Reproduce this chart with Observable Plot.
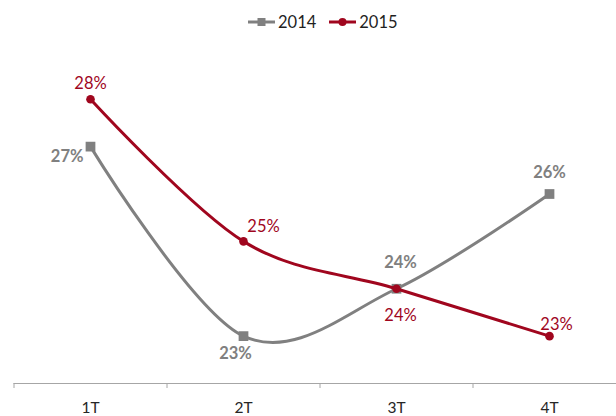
<!DOCTYPE html>
<html><head><meta charset="utf-8">
<script src="https://cdn.jsdelivr.net/npm/d3@7"></script>
<script src="https://cdn.jsdelivr.net/npm/@observablehq/plot@0.6"></script>
<style>
body{margin:0;background:#fff;font-family:Lato,sans-serif}
#wrap{position:relative;width:616px;height:416px}
#legend{position:absolute;top:12px;left:248px;display:flex;align-items:center;font-size:16.5px;line-height:20px;color:#1f1f1f;z-index:2}
#legend .item{display:flex;align-items:center;margin-right:13px}
#legend svg{margin-right:3px}
</style></head><body>
<div id="wrap"><div id="legend"></div><div id="chart"></div></div>
<script>
const categories = ["1T", "2T", "3T", "4T"];
const series = ["2014", "2015"];
const values2014 = [27, 23, 24, 26];
const values2015 = [28, 25, 24, 23];
const labels2014 = ["27%", "23%", "24%", "26%"];
const labels2015 = ["28%", "25%", "24%", "23%"];
const colors = {"2014": "#808080", "2015": "#A0061E"};
const symbols = {"2014": "square", "2015": "circle"};

// label placement (layout only)
const place2014 = [{dx:-7,dy:10,anchor:"end"},{dx:-8,dy:18},{dx:4,dy:-26},{dx:0,dy:-21}];
const place2015 = [{dx:0,dy:-16},{dx:20,dy:-15},{dx:4,dy:27},{dx:7,dy:-11}];

const rows = (s, vals, labs) => categories.map((c, k) => ({cat: c, i: k + 1, v: vals[k], label: labs[k], series: s}));
const d2014 = rows("2014", values2014, labels2014);
const d2015 = rows("2015", values2015, labels2015);

const labelMarks = (data, place, bold) => data.map((d, k) => Plot.text([d], {
  x: "i", y: "v", text: "label",
  dx: place[k].dx, dy: place[k].dy,
  textAnchor: place[k].anchor || "middle",
  fill: colors[d.series], fontSize: 16.5, fontWeight: bold ? "bold" : "normal"
}));

const chart = Plot.plot({
  width: 616, height: 416,
  marginTop: 4, marginBottom: 33, marginLeft: 0, marginRight: 0,
  style: {fontFamily: "Lato, sans-serif", background: "#fff"},
  x: {type: "linear", domain: [0.5, 4.5], range: [13.5, 625.5], label: null},
  y: {domain: [22, 30], label: null, axis: null},
  marks: [
    Plot.ruleY([22], {x1: 0.5, x2: 4.5, stroke: "#a6a6a6", strokeWidth: 1}),
    Plot.axisX({ticks: [0.5, 1.5, 2.5, 3.5, 4.5], tickFormat: () => "", tickSize: 5, stroke: "#a6a6a6", strokeOpacity: 1, label: null}),
    Plot.axisX({ticks: [1, 2, 3, 4], tickSize: 0, tickPadding: 18, tickFormat: d => categories[d - 1], fontSize: 15.5, fill: "#262626", label: null}),
    Plot.line(d2014, {x: "i", y: "v", stroke: colors["2014"], strokeWidth: 3, curve: "cardinal"}),
    Plot.dot(d2014, {x: "i", y: "v", symbol: symbols["2014"], r: 5.5, fill: colors["2014"], stroke: "none"}),
    Plot.line(d2015, {x: "i", y: "v", stroke: colors["2015"], strokeWidth: 3, curve: "cardinal"}),
    Plot.dot(d2015, {x: "i", y: "v", symbol: symbols["2015"], r: 4.3, fill: colors["2015"], stroke: "none"}),
    ...labelMarks(d2014, place2014, true),
    ...labelMarks(d2015, place2015, false)
  ]
});
document.getElementById("chart").appendChild(chart);

// legend
const legend = document.getElementById("legend");
series.forEach(s => {
  const item = document.createElement("div");
  item.className = "item";
  const marker = symbols[s] === "square"
    ? `<rect x="9.5" y="5" width="8" height="8" fill="${colors[s]}"/>`
    : `<circle cx="13.5" cy="9" r="4" fill="${colors[s]}"/>`;
  item.innerHTML = `<svg width="27" height="18"><line x1="0" x2="27" y1="9" y2="9" stroke="${colors[s]}" stroke-width="3"/>${marker}</svg><span>${s}</span>`;
  legend.appendChild(item);
});
</script>
</body></html>
